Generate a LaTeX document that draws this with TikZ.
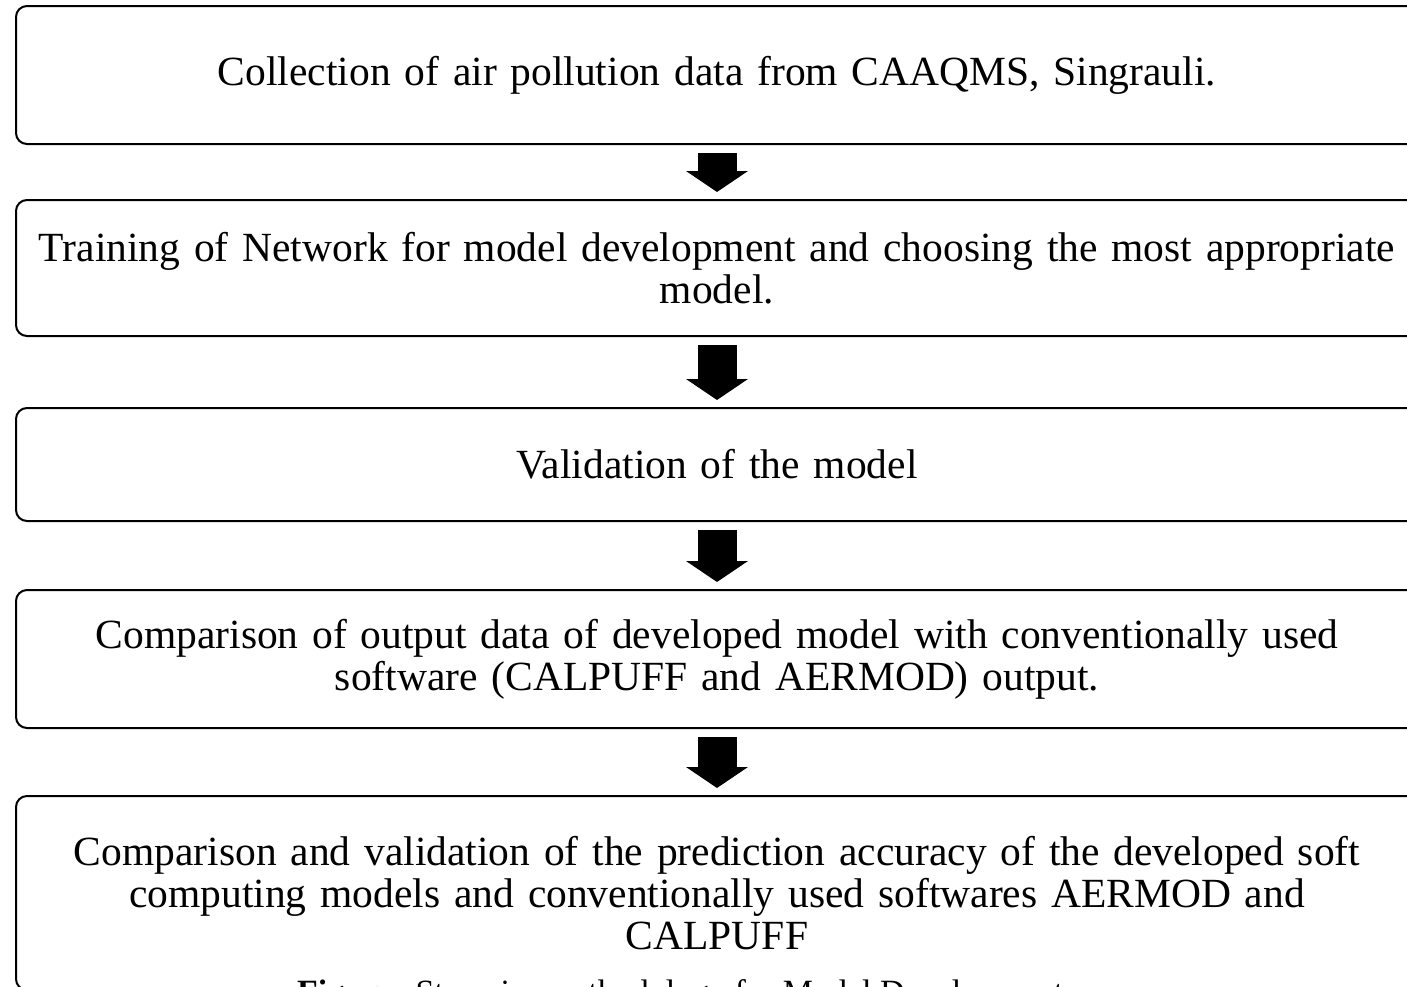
\documentclass[tikz,border=0pt]{standalone}
\usepackage{fontspec}
\setmainfont{Liberation Serif}
\usetikzlibrary{arrows.meta}
\begin{document}
\begin{tikzpicture}[x=1pt,y=-1pt,
  stepbox/.style={draw=black, line width=2pt, rounded corners=11pt, minimum width=1402pt,
    text width=1395pt, align=center, inner sep=0pt,
    font=\fontsize{41.5}{42}\selectfont},
  bigarrow/.style={line width=39pt, -{Triangle[length=21pt,width=61pt]}, shorten <=8pt, shorten >=7pt}]
\useasboundingbox (0,0) rectangle (1407,986);
\node[stepbox, minimum height=138pt] (b1) at (717,75) {Collection of air pollution data from CAAQMS, Singrauli.};
\node[stepbox, minimum height=136pt] (b2) at (717,268) {Training of Network for model development and choosing the most appropriate\\model.};
\node[stepbox, minimum height=113pt] (b3) at (717,464.5) {Validation of the model};
\node[stepbox, minimum height=138pt] (b4) at (717,659) {Comparison of output data of developed model with conventionally used\\software (CALPUFF and AERMOD) output.};
\node[stepbox, minimum height=194pt] (b5) at (717,893) {Comparison and validation of the prediction accuracy of the developed soft\\computing models and conventionally used softwares AERMOD and\\CALPUFF};
\draw[bigarrow] (b1.south) -- (b2.north);
\draw[bigarrow] (b2.south) -- (b3.north);
\draw[bigarrow] (b3.south) -- (b4.north);
\draw[bigarrow] (b4.south) -- (b5.north);
\node[anchor=base west, inner sep=0pt, font=\fontsize{34}{36}\selectfont] (cap) at (297,1003) {\textbf{Figure:} Stepwise methodology for Model Development};
\end{tikzpicture}
\end{document}
